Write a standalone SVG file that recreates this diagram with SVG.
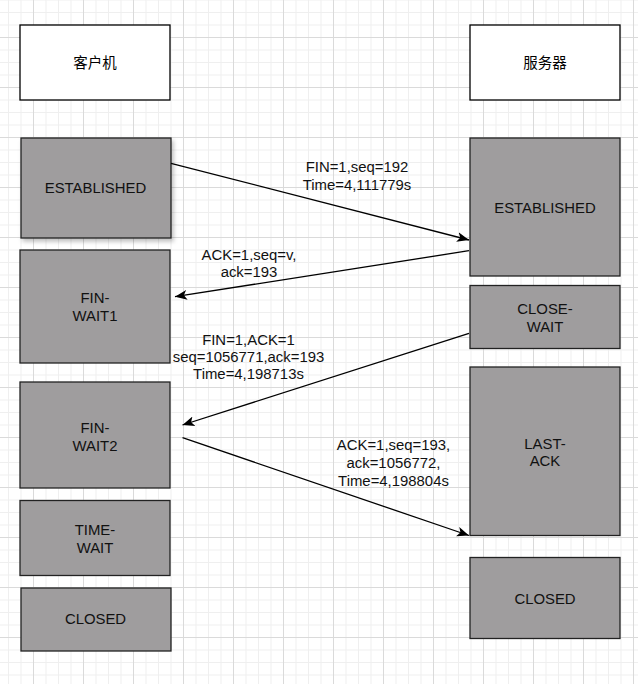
<svg xmlns="http://www.w3.org/2000/svg" width="638" height="684" viewBox="0 0 638 684">
<style>
.lbl{font-family:"Liberation Sans",Arial,"Noto Sans CJK SC",sans-serif;font-size:14.9px;fill:#111;text-anchor:middle}
.cn{font-family:"Noto Sans CJK SC","Liberation Sans",sans-serif;font-size:14.5px;fill:#000;text-anchor:middle}
.head{fill:#fff;stroke:#000;stroke-width:1.3}
.st{fill:#9f9d9e;stroke:#222;stroke-width:1.3}
.conn{fill:none;stroke:#000;stroke-width:1.3}
</style>
<defs>
<pattern id="grid" patternUnits="userSpaceOnUse" x="-17" y="-13" width="50" height="50">
<path d="M13,0V50M25.5,0V50M38,0V50M0,13H50M0,25.5H50M0,38H50" stroke="#efefef" stroke-width="1" fill="none"/>
<path d="M0.5,0V50M0,0.5H50" stroke="#dadada" stroke-width="1" fill="none"/>
</pattern>
<marker id="arr" markerUnits="userSpaceOnUse" markerWidth="14" markerHeight="12" refX="12" refY="5" orient="auto" viewBox="0 0 14 10">
<path d="M0,0L12,5L0,10L3,5Z" fill="#000"/>
</marker>
<filter id="sh" x="-10%" y="-10%" width="130%" height="130%">
<feDropShadow dx="2" dy="3" stdDeviation="2" flood-color="#000" flood-opacity="0.25"/>
</filter>
</defs>
<rect width="638" height="684" fill="#fff"/>
<rect width="638" height="684" fill="url(#grid)"/>

<g id="client">
<rect class="head" x="20" y="25" width="150" height="75"/>
<text class="cn" x="95" y="67.5">客户机</text>
</g>
<g id="server">
<rect class="head" x="470" y="25" width="150" height="75"/>
<text class="cn" x="545" y="67.5">服务器</text>
</g>

<g id="c-established">
<rect class="st" x="21" y="138" width="150" height="100" filter="url(#sh)"/>
<text class="lbl" x="95.5" y="193">ESTABLISHED</text>
</g>
<g id="c-finwait1">
<rect class="st" x="20" y="250" width="150" height="113"/>
<text class="lbl" x="95" y="303">FIN-</text>
<text class="lbl" x="95" y="321">WAIT1</text>
</g>
<g id="c-finwait2">
<rect class="st" x="20" y="382" width="150" height="106"/>
<text class="lbl" x="95" y="433">FIN-</text>
<text class="lbl" x="95" y="451">WAIT2</text>
</g>
<g id="c-timewait">
<rect class="st" x="20" y="500.5" width="150" height="75"/>
<text class="lbl" x="95" y="534.5">TIME-</text>
<text class="lbl" x="95" y="552.5">WAIT</text>
</g>
<g id="c-closed">
<rect class="st" x="21" y="588" width="150" height="63"/>
<text class="lbl" x="95.5" y="624">CLOSED</text>
</g>

<g id="s-established">
<rect class="st" x="470" y="138" width="150" height="138"/>
<text class="lbl" x="545" y="212.5">ESTABLISHED</text>
</g>
<g id="s-closewait">
<rect class="st" x="470" y="285.5" width="150" height="63"/>
<text class="lbl" x="545" y="313.5">CLOSE-</text>
<text class="lbl" x="545" y="331.5">WAIT</text>
</g>
<g id="s-lastack">
<rect class="st" x="470" y="367" width="150" height="168.5"/>
<text class="lbl" x="545" y="448.5">LAST-</text>
<text class="lbl" x="545" y="466">ACK</text>
</g>
<g id="s-closed">
<rect class="st" x="470" y="557.5" width="150" height="81"/>
<text class="lbl" x="545" y="603.5">CLOSED</text>
</g>

<g id="connectors">
<line class="conn" x1="171" y1="163.3" x2="469" y2="240" marker-end="url(#arr)"/>
<line class="conn" x1="469" y1="250.7" x2="175" y2="296.7" marker-end="url(#arr)"/>
<line class="conn" x1="469" y1="333.3" x2="182.5" y2="425" marker-end="url(#arr)"/>
<line class="conn" x1="182.5" y1="437.7" x2="469" y2="535.5" marker-end="url(#arr)"/>
<g id="labels">
<text class="lbl" x="357" y="172">FIN=1,seq=192</text>
<text class="lbl" x="357" y="189.5">Time=4,111779s</text>
<text class="lbl" x="249" y="260">ACK=1,seq=v,</text>
<text class="lbl" x="249" y="277">ack=193</text>
<text class="lbl" x="248.5" y="344.5">FIN=1,ACK=1</text>
<text class="lbl" x="248.5" y="361.5">seq=1056771,ack=193</text>
<text class="lbl" x="248.5" y="379">Time=4,198713s</text>
<text class="lbl" x="393.5" y="450">ACK=1,seq=193,</text>
<text class="lbl" x="393.5" y="467.5">ack=1056772,</text>
<text class="lbl" x="393.5" y="485.5">Time=4,198804s</text>
</g>
</g>
</svg>
